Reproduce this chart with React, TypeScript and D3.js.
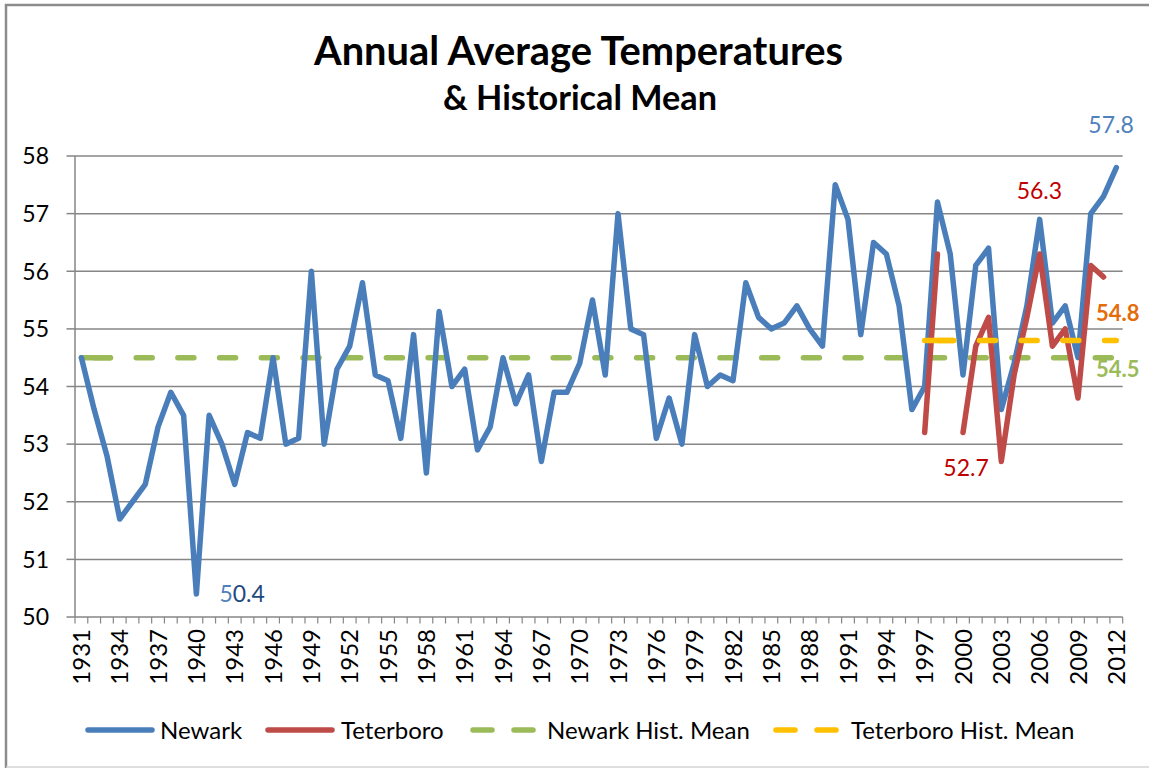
import React from "react";
import * as d3 from "d3";

const years = d3.range(1931, 2013);

const newark = [
  54.5, 53.6, 52.8, 51.7, 52.0, 52.3, 53.3, 53.9, 53.5, 50.4,
  53.5, 53.0, 52.3, 53.2, 53.1, 54.5, 53.0, 53.1, 56.0, 53.0,
  54.3, 54.7, 55.8, 54.2, 54.1, 53.1, 54.9, 52.5, 55.3, 54.0,
  54.3, 52.9, 53.3, 54.5, 53.7, 54.2, 52.7, 53.9, 53.9, 54.4,
  55.5, 54.2, 57.0, 55.0, 54.9, 53.1, 53.8, 53.0, 54.9, 54.0,
  54.2, 54.1, 55.8, 55.2, 55.0, 55.1, 55.4, 55.0, 54.7, 57.5,
  56.9, 54.9, 56.5, 56.3, 55.4, 53.6, 54.0, 57.2, 56.3, 54.2,
  56.1, 56.4, 53.6, 54.4, 55.4, 56.9, 55.1, 55.4, 54.5, 57.0,
  57.3, 57.8,
];

const teterboroYears = d3.range(1997, 2012);
const teterboro = [
  53.2, 56.3, null, 53.2, 54.7, 55.2, 52.7, 54.2, 55.2, 56.3,
  54.7, 55.0, 53.8, 56.1, 55.9,
];

const newarkMean = 54.5;
const newarkMeanYears = [1931, 2012];
const teterboroMean = 54.8;
const teterboroMeanYears = [1997, 2012];

const yTicks = [50, 51, 52, 53, 54, 55, 56, 57, 58];
const labelYears = years.filter((y) => (y - 1931) % 3 === 0);

const legendItems = [
  { name: "Newark", color: "#4A7EBB", dashed: false, x: 85, tx: 160 },
  { name: "Teterboro", color: "#BE4B48", dashed: false, x: 265, tx: 341 },
  { name: "Newark Hist. Mean", color: "#9BBB59", dashed: true, x: 470, tx: 547 },
  { name: "Teterboro Hist. Mean", color: "#FFC000", dashed: true, x: 773, tx: 851 },
];

const W = 1149;
const H = 769;
const left = 75;
const right = 1122.7;
const top = 156;
const bottom = 617;
const font = "Lato, 'Open Sans', sans-serif";
const grid = "#868686";

const App = () => {
  const x = d3.scalePoint<number>().domain(years).range([left, right]).padding(0.5);
  const y = d3.scaleLinear().domain([50, 58]).range([bottom, top]);
  const step = x.step();

  const line = d3
    .line<[number, number | null]>()
    .defined((d) => d[1] !== null)
    .x((d) => x(d[0]) as number)
    .y((d) => y(d[1] as number));

  const newarkPath = line(years.map((yr, i) => [yr, newark[i]]));
  const teterboroPath = line(teterboroYears.map((yr, i) => [yr, teterboro[i]]));

  const period = 41.7;
  const dash = "16 25.7";
  const dashOffset = period - 13.1;

  const meanLine = (yrs: number[], v: number, color: string) => {
    const x0 = x(yrs[0]) as number;
    const x1 = x(yrs[1]) as number;
    return (
      <g>
        <line x1={x0} x2={x1} y1={y(v)} y2={y(v)} stroke={color} strokeWidth={5.5}
          strokeLinecap="round" strokeDasharray={dash} strokeDashoffset={dashOffset} />
        <line x1={x0} x2={x0 + 28.6} y1={y(v)} y2={y(v)} stroke={color} strokeWidth={5.5}
          strokeLinecap="round" />
      </g>
    );
  };

  const boundaries = d3.range(years.length + 1).map((i) => left + i * step);

  return (
    <svg width={W} height={H} style={{ position: "absolute", left: 0, top: 0, background: "#fff" }}
      fontFamily={font}>
      <rect x={0} y={0} width={W} height={H} fill="#fff" />
      {/* chart frame */}
      <line x1={6} x2={6} y1={4} y2={768} stroke="#8C8C8C" strokeWidth={2.5} />
      <line x1={5} x2={W} y1={5} y2={5} stroke="#8C8C8C" strokeWidth={2.5} />
      <line x1={6} x2={W} y1={767} y2={767} stroke="#D4D4D4" strokeWidth={1.5} />

      {/* title */}
      <text x={578.5} y={65} textAnchor="middle" fontSize={40} fontWeight="bold"
        textLength={529} lengthAdjust="spacingAndGlyphs" fill="#000">
        Annual Average Temperatures
      </text>
      <text x={580} y={110} textAnchor="middle" fontSize={34} fontWeight="bold"
        textLength={274} lengthAdjust="spacingAndGlyphs" fill="#000">
        &amp; Historical Mean
      </text>

      {/* gridlines + y axis */}
      {yTicks.map((t) => (
        <g key={t}>
          {t > 50 && (
            <line x1={left} x2={right} y1={y(t)} y2={y(t)} stroke={grid} strokeWidth={1.5} />
          )}
          <line x1={left - 8.5} x2={left} y1={y(t)} y2={y(t)} stroke={grid} strokeWidth={1.5} />
          <text x={49} y={y(t)} dy="0.36em" textAnchor="end" fontSize={23} fill="#000">
            {t}
          </text>
        </g>
      ))}
      <line x1={left} x2={left} y1={top} y2={bottom} stroke={grid} strokeWidth={1.5} />

      {/* x axis */}
      <line x1={left} x2={right} y1={bottom} y2={bottom} stroke={grid} strokeWidth={1.5} />
      {boundaries.map((bx, i) => (
        <line key={i} x1={bx} x2={bx} y1={bottom} y2={bottom + 6.5} stroke={grid} strokeWidth={1.2} />
      ))}
      {labelYears.map((yr) => (
        <text key={yr} transform={`translate(${x(yr)},629) rotate(-90)`} dy="0.36em"
          textAnchor="end" fontSize={24} fill="#000">
          {yr}
        </text>
      ))}

      {/* series */}
      {meanLine(newarkMeanYears, newarkMean, "#9BBB59")}
      <path d={newarkPath ?? ""} fill="none" stroke="#4A7EBB" strokeWidth={5.5} strokeLinejoin="round" strokeLinecap="round" />
      <path d={teterboroPath ?? ""} fill="none" stroke="#BE4B48" strokeWidth={5.5} strokeLinejoin="round" strokeLinecap="round" />
      {meanLine(teterboroMeanYears, teterboroMean, "#FFC000")}

      {/* data labels */}
      <text x={(x(1940) as number) + 23} y={y(50.4) + 8} fontSize={23}>
        <tspan fill="#4F81BD">5</tspan>
        <tspan fill="#1F497D">0.4</tspan>
      </text>
      <text x={(x(2012) as number) - 28} y={y(57.8) - 35} fontSize={23} fill="#4F81BD">57.8</text>
      <text x={(x(2006) as number) - 23} y={y(56.3) - 55} fontSize={23} fill="#C00000">56.3</text>
      <text x={(x(2003) as number) - 58} y={y(52.7) + 15} fontSize={23} fill="#C00000">52.7</text>
      <text x={1096} y={y(teterboroMean) - 19} fontSize={22} fontWeight="bold" fill="#E46C0A">54.8</text>
      <text x={1096} y={y(newarkMean) + 19} fontSize={22} fontWeight="bold" fill="#9BBB59">54.5</text>

      {/* legend */}
      {legendItems.map((it) => (
        <g key={it.name}>
          {it.dashed ? (
            <>
              <line x1={it.x + 3} x2={it.x + 22} y1={730} y2={730} stroke={it.color} strokeWidth={5.5} strokeLinecap="round" />
              <line x1={it.x + 44} x2={it.x + 63} y1={730} y2={730} stroke={it.color} strokeWidth={5.5} strokeLinecap="round" />
            </>
          ) : (
            <line x1={it.x + 3} x2={it.x + 67} y1={730} y2={730} stroke={it.color} strokeWidth={5.5} strokeLinecap="round" />
          )}
          <text x={it.tx} y={730} dy="0.36em" fontSize={24} fill="#000">
            {it.name}
          </text>
        </g>
      ))}
    </svg>
  );
};

export default App;
